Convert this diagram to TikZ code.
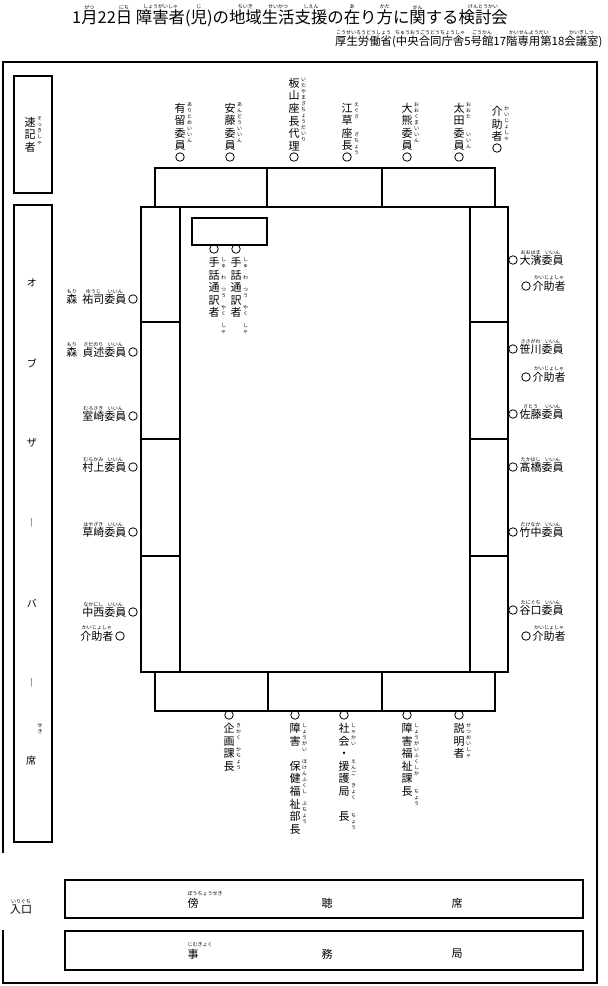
\documentclass[tikz,border=0pt]{standalone}
\usepackage{fontspec}
\setmainfont{Noto Sans CJK JP}
\usetikzlibrary{positioning}

% ruby over a horizontal word
\newsavebox\rbbox
\newcommand\rb[2]{\sbox\rbbox{#1}\leavevmode\vbox{\offinterlineskip
  \hbox to\wd\rbbox{\hss\fontsize{5}{5}\selectfont#2\hss}\kern0.6pt\box\rbbox}}
% one character per line
\ExplSyntaxOn
\NewDocumentCommand\vtxt{O{12.6pt}m}
  {\vbox{\baselineskip=#1\relax\lineskiplimit=-\maxdimen
    \tl_map_inline:nn{#2}{\hbox{##1}}}}
\ExplSyntaxOff

\begin{document}
\begin{tikzpicture}[x=1pt, y=-1pt, line width=1.1pt,
  seat/.style={circle, draw, line width=0.8pt, minimum size=8.5pt, inner sep=0pt},
  lbl/.style={inner sep=0pt, font=\fontsize{11}{12.6}\selectfont},
  obs/.style={inner sep=0pt, font=\fontsize{10}{12}\selectfont},
  kana/.style={inner sep=0pt, font=\fontsize{5}{6}\selectfont},
  kanav/.style={kana, anchor=north west, xshift=0.6pt}]
  \useasboundingbox (0,0) rectangle (608,986);

  % Heading
  \node[inner sep=0pt, font=\fontsize{16.4}{16}\selectfont, anchor=base] (title) at (290,23)
    {1\rb{月}{がつ}22\rb{日}{にち} \rb{障害者}{しょうがいしゃ}(\rb{児}{じ})の\rb{地域}{ちいき}\rb{生活}{せいかつ}\rb{支援}{しえん}の\rb{在}{あ}り\rb{方}{かた}に\rb{関}{かん}する\rb{検討会}{けんとうかい}};
  \node[inner sep=0pt, font=\fontsize{11.4}{12}\selectfont, anchor=base east] (place) at (603,45)
    {\rb{厚生労働省}{こうせいろうどうしょう}(\rb{中央合同庁舎}{ちゅうおうごうどうちょうしゃ}5\rb{号館}{ごうかん}17\rb{階専用第}{かいせんようだい}18\rb{会議室}{かいぎしつ})};

  % Room
  \draw (3,853) -- (3,62) -- (597,62) -- (597,983) -- (3,983) -- (3,930);
  \draw (14,76) rectangle (52,193);
  \draw (14,205) rectangle (52,842);

  % Tables
  \draw (155,168) rectangle (495,207);
  \draw (267,168) -- (267,207);
  \draw (382,168) -- (382,207);
  \draw (141,207) rectangle (508,672);
  \draw (180,207) -- (180,672);
  \draw (470,207) -- (470,672);
  \draw (141,322) -- (180,322) (141,439) -- (180,439) (141,556) -- (180,556);
  \draw (470,322) -- (508,322) (470,439) -- (508,439) (470,556) -- (508,556);
  \draw (155,672) rectangle (495,711);
  \draw (268,672) -- (268,711);
  \draw (382,672) -- (382,711);
  \draw (192,218) rectangle (267,245);
  \draw (65,880) rectangle (583,918);
  \draw (65,931) rectangle (583,970);

  % Stenographer and observers
  \node[lbl] (sokki) at (30,134.6) {\vtxt{速記者}};
  \node[kanav] (sokkiK) at (sokki.north east) {\vtxt[6pt]{そっきしゃ}};
  \node[obs] (ob1) at (32,283) {オ};
  \node[obs] (ob2) at (32,363) {ブ};
  \node[obs] (ob3) at (32,443) {ザ};
  \node[obs] (ob4) at (32,523) {︱};
  \node[obs] (ob5) at (32,603) {バ};
  \node[obs] (ob6) at (32,683) {︱};
  \node[obs] (ob7) at (31,761) {席};
  \node[kana, anchor=north west] (ob7K) at (37,723) {\vtxt[6pt]{せき}};

  % Top seats
  \node[seat] (arutome) at (180,157) {};
  \node[lbl, above=1pt of arutome] (arutomeN) {\vtxt{有留委員}};
  \node[kanav] (arutomeK) at (arutomeN.north east) {\vtxt[6pt]{ありとめいいん}};
  \node[seat] (ando) at (230,157) {};
  \node[lbl, above=1pt of ando] (andoN) {\vtxt{安藤委員}};
  \node[kanav] (andoK) at (andoN.north east) {\vtxt[6pt]{あんどういいん}};
  \node[seat] (itayama) at (294,157) {};
  \node[lbl, above=1pt of itayama] (itayamaN) {\vtxt{板山座長代理}};
  \node[kanav] (itayamaK) at (itayamaN.north east) {\vtxt[6pt]{いたやまざちょうだいり}};
  \node[seat] (egusa) at (347,157) {};
  \node[lbl, above=1pt of egusa] (egusaN) {\vtxt{江草座長}};
  \node[kanav] (egusaK) at (egusaN.north east) {\vtxt[6pt]{えぐさ{}{}ざちょう}};
  \node[seat] (okuma) at (407,157) {};
  \node[lbl, above=1pt of okuma] (okumaN) {\vtxt{大熊委員}};
  \node[kanav] (okumaK) at (okumaN.north east) {\vtxt[6pt]{おおくまいいん}};
  \node[seat] (ota) at (459,157) {};
  \node[lbl, above=1pt of ota] (otaN) {\vtxt{太田委員}};
  \node[kanav] (otaK) at (otaN.north east) {\vtxt[6pt]{おおた{}{}いいん}};
  \node[seat] (kaijoT) at (497,148) {};
  \node[lbl, above=1pt of kaijoT] (kaijoTN) {\vtxt{介助者}};
  \node[kanav] (kaijoTK) at (kaijoTN.north east) {\vtxt[6pt]{かいじょしゃ}};

  % Interpreters
  \node[seat] (shuwa1) at (214,249) {};
  \node[lbl, anchor=north] (shuwa1N) at ([yshift=-3pt]shuwa1.south) {\vtxt{手話通訳者}};
  \node[kanav] (shuwa1K) at (shuwa1N.north east) {\vtxt[6pt]{しゅ{}わ{}つう{}やく{}しゃ}};
  \node[seat] (shuwa2) at (236,249) {};
  \node[lbl, anchor=north] (shuwa2N) at ([yshift=-3pt]shuwa2.south) {\vtxt{手話通訳者}};
  \node[kanav] (shuwa2K) at (shuwa2N.north east) {\vtxt[6pt]{しゅ{}わ{}つう{}やく{}しゃ}};

  % Left side
  \node[seat] (mori1) at (133,299) {};
  \node[lbl, left=1.5pt of mori1, anchor=base east, yshift=-4.2pt] (mori1N)
    {\rb{森}{もり}\hspace{5pt}\rb{祐司}{ゆうじ}\rb{委員}{いいん}};
  \node[seat] (mori2) at (133,352) {};
  \node[lbl, left=1.5pt of mori2, anchor=base east, yshift=-4.2pt] (mori2N)
    {\rb{森}{もり}\hspace{5pt}\rb{貞述}{さだのり}\rb{委員}{いいん}};
  \node[seat] (murosaki) at (133,416) {};
  \node[lbl, left=1.5pt of murosaki, anchor=base east, yshift=-4.2pt] (murosakiN)
    {\rb{室崎}{むろさき}\rb{委員}{いいん}};
  \node[seat] (murakami) at (133,467) {};
  \node[lbl, left=1.5pt of murakami, anchor=base east, yshift=-4.2pt] (murakamiN)
    {\rb{村上}{むらかみ}\rb{委員}{いいん}};
  \node[seat] (hayasaki) at (133,532) {};
  \node[lbl, left=1.5pt of hayasaki, anchor=base east, yshift=-4.2pt] (hayasakiN)
    {\rb{草崎}{はやざき}\rb{委員}{いいん}};
  \node[seat] (nakanishi) at (133,612) {};
  \node[lbl, left=1.5pt of nakanishi, anchor=base east, yshift=-4.2pt] (nakanishiN)
    {\rb{中西}{なかにし}\rb{委員}{いいん}};
  \node[seat] (kaijoL) at (120,636) {};
  \node[lbl, left=1.5pt of kaijoL, anchor=base east, yshift=-4.2pt] (kaijoLN)
    {\rb{介助者}{かいじょしゃ}};

  % Right side
  \node[seat] (ohama) at (513,260) {};
  \node[lbl, right=1.5pt of ohama, anchor=base west, yshift=-4.2pt] (ohamaN)
    {\rb{大濱}{おおはま}\rb{委員}{いいん}};
  \node[seat] (kaijoR1) at (526,286) {};
  \node[lbl, right=1.5pt of kaijoR1, anchor=base west, yshift=-4.2pt] (kaijoR1N)
    {\rb{介助者}{かいじょしゃ}};
  \node[seat] (sasakawa) at (513,349) {};
  \node[lbl, right=1.5pt of sasakawa, anchor=base west, yshift=-4.2pt] (sasakawaN)
    {\rb{笹川}{ささがわ}\rb{委員}{いいん}};
  \node[seat] (kaijoR2) at (526,377) {};
  \node[lbl, right=1.5pt of kaijoR2, anchor=base west, yshift=-4.2pt] (kaijoR2N)
    {\rb{介助者}{かいじょしゃ}};
  \node[seat] (sato) at (513,414) {};
  \node[lbl, right=1.5pt of sato, anchor=base west, yshift=-4.2pt] (satoN)
    {\rb{佐藤}{さとう}\rb{委員}{いいん}};
  \node[seat] (takahashi) at (513,467) {};
  \node[lbl, right=1.5pt of takahashi, anchor=base west, yshift=-4.2pt] (takahashiN)
    {\rb{髙橋}{たかはし}\rb{委員}{いいん}};
  \node[seat] (takenaka) at (513,532) {};
  \node[lbl, right=1.5pt of takenaka, anchor=base west, yshift=-4.2pt] (takenakaN)
    {\rb{竹中}{たけなか}\rb{委員}{いいん}};
  \node[seat] (taniguchi) at (513,610) {};
  \node[lbl, right=1.5pt of taniguchi, anchor=base west, yshift=-4.2pt] (taniguchiN)
    {\rb{谷口}{たにぐち}\rb{委員}{いいん}};
  \node[seat] (kaijoR3) at (526,636) {};
  \node[lbl, right=1.5pt of kaijoR3, anchor=base west, yshift=-4.2pt] (kaijoR3N)
    {\rb{介助者}{かいじょしゃ}};

  % Bottom seats
  \node[seat] (kikaku) at (229,715) {};
  \node[lbl, anchor=north] (kikakuN) at ([yshift=-3pt]kikaku.south) {\vtxt{企画課長}};
  \node[kanav] (kikakuK) at (kikakuN.north east) {\vtxt[6pt]{きかく{}かちょう}};
  \node[seat] (hoken) at (295,715) {};
  \node[lbl, anchor=north] (hokenN) at ([yshift=-3pt]hoken.south) {\vtxt{障害{}保健福祉部長}};
  \node[kanav] (hokenK) at (hokenN.north east) {\vtxt[6pt]{しょうがい{}ほけんふくし{}ぶちょう}};
  \node[seat] (engo) at (344,715) {};
  \node[lbl, anchor=north] (engoN) at ([yshift=-3pt]engo.south) {\vtxt{社会・援護局{}長}};
  \node[kanav] (engoK) at (engoN.north east) {\vtxt[6pt]{しゃかい{}{}えんご{}きょく{}{}ちょう}};
  \node[seat] (fukushi) at (407,715) {};
  \node[lbl, anchor=north] (fukushiN) at ([yshift=-3pt]fukushi.south) {\vtxt{障害福祉課長}};
  \node[kanav] (fukushiK) at (fukushiN.north east) {\vtxt[6pt]{しょうがいふくしか{}{}ちょう}};
  \node[seat] (setsumei) at (459,715) {};
  \node[lbl, anchor=north] (setsumeiN) at ([yshift=-3pt]setsumei.south) {\vtxt{説明者}};
  \node[kanav] (setsumeiK) at (setsumeiN.north east) {\vtxt[6pt]{せつめいしゃ}};

  % Entrance, public and secretariat
  \node[lbl, anchor=base] (iriguchi) at (21,913) {\rb{入口}{いりぐち}};
  \node[lbl] (bo) at (193,903) {傍};
  \node[lbl] (cho) at (327,903) {聴};
  \node[lbl] (seki) at (457,903) {席};
  \node[kana, anchor=south west] (boK) at ([yshift=1pt]bo.north west) {ぼうちょうせき};
  \node[lbl] (ji) at (193,954) {事};
  \node[lbl] (mu) at (327,954) {務};
  \node[lbl] (kyoku) at (457,954) {局};
  \node[kana, anchor=south west] (jiK) at ([yshift=1pt]ji.north west) {じむきょく};
\end{tikzpicture}
\end{document}
